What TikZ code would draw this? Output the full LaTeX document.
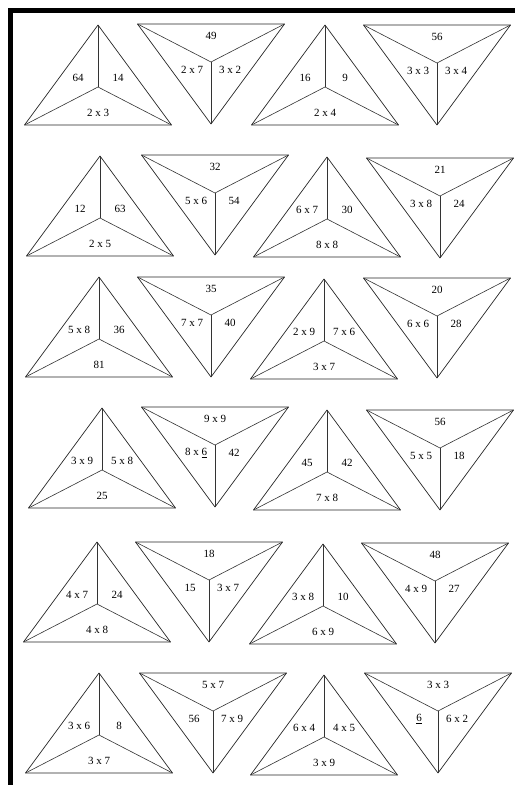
\documentclass[tikz,border=0pt]{standalone}
\usepackage{fontspec}
\setmainfont{Liberation Serif}
\begin{document}
\begin{tikzpicture}[x=1pt, y=-1pt, line join=round,
    edge/.style={black!85, line width=0.7pt},
    spoke/.style={black!80, line width=0.6pt},
    lab/.style={font=\fontsize{11}{13}\selectfont, inner sep=0pt}]
    \useasboundingbox (0,0) rectangle (515,785);

    % frame, top and left only
    \fill (8,8) rectangle (515,13);
    \fill (8,8) rectangle (13,785);

    % pointing up: name/centre x/top/left/right/bottom
    \foreach \n/\cx/\t/\a/\b/\c in {
        u1/98/25/64/14/2 x 3, u2/325/25/16/9/2 x 4,
        u3/100/156/12/63/2 x 5, u4/327/157/6 x 7/30/8 x 8,
        u5/99/277/5 x 8/36/81, u6/324/279/2 x 9/7 x 6/3 x 7,
        u7/102/408/3 x 9/5 x 8/25, u8/327/410/45/42/7 x 8,
        u9/97/542/4 x 7/24/4 x 8, u10/323/544/3 x 8/10/6 x 9,
        u11/99/673/3 x 6/8/3 x 7, u12/324/675/6 x 4/4 x 5/3 x 9}{
        \coordinate (\n-a) at (\cx,\t);
        \coordinate (\n-l) at ({\cx-73.5},{\t+100});
        \coordinate (\n-r) at ({\cx+73.5},{\t+100});
        \coordinate (\n-m) at (\cx,{\t+62});
        \draw[edge] (\n-a) -- (\n-l) -- (\n-r) -- cycle;
        \draw[spoke] (\n-m) -- (\n-a);
        \draw[spoke] (\n-m) -- (\n-l);
        \draw[spoke] (\n-m) -- (\n-r);
        \node[lab] (\n-la) at ({\cx-20},{\t+53}) {\a};
        \node[lab] (\n-lb) at ({\cx+20},{\t+53}) {\b};
        \node[lab] (\n-lc) at (\cx,{\t+88}) {\c};
    }

    % pointing down: name/centre x/top/top/left/right
    \foreach \n/\cx/\t/\a/\b/\c in {
        d1/211/24/49/2 x 7/3 x 2, d2/437/25/56/3 x 3/3 x 4,
        d3/215/155/32/5 x 6/54, d4/440/158/21/3 x 8/24,
        d5/211/277/35/7 x 7/40, d6/437/278/20/6 x 6/28,
        d7/215/407/9 x 9/{8 x \underline{6}}/42, d8/440/410/56/5 x 5/18,
        d9/209/542/18/15/3 x 7, d10/435/543/48/4 x 9/27,
        d11/213/673/5 x 7/56/7 x 9, d12/438/673/3 x 3/{\underline{6}}/6 x 2}{
        \coordinate (\n-l) at ({\cx-73.5},\t);
        \coordinate (\n-r) at ({\cx+73.5},\t);
        \coordinate (\n-b) at (\cx,{\t+100});
        \coordinate (\n-m) at (\cx,{\t+38});
        \draw[edge] (\n-l) -- (\n-r) -- (\n-b) -- cycle;
        \draw[spoke] (\n-m) -- (\n-l);
        \draw[spoke] (\n-m) -- (\n-r);
        \draw[spoke] (\n-m) -- (\n-b);
        \node[lab] (\n-la) at (\cx,{\t+12}) {\a};
        \node[lab] (\n-lb) at ({\cx-19},{\t+46}) {\b};
        \node[lab] (\n-lc) at ({\cx+19},{\t+46}) {\c};
    }
\end{tikzpicture}
\end{document}
